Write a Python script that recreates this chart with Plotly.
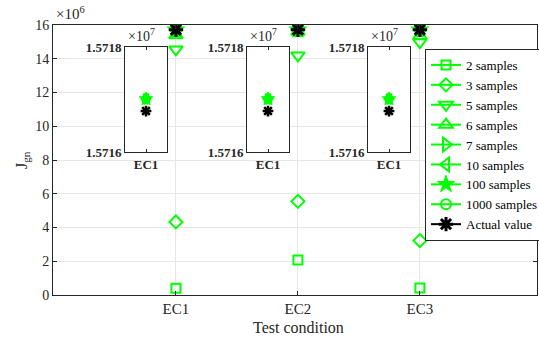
import plotly.graph_objects as go

# ---- data -------------------------------------------------------------
conditions = ["EC1", "EC2", "EC3"]
cond_pos = [1, 2, 3]

j_2 = [0.40e6, 2.07e6, 0.42e6]
j_3 = [4.33e6, 5.55e6, 3.22e6]
j_5 = [14.55e6, 14.20e6, 14.98e6]
j_6 = [15.40e6, 15.60e6, 15.35e6]
j_7 = [15717010, 15717010, 15717010]
j_10 = [15717010, 15717010, 15717010]
j_100 = [15717010, 15717010, 15717010]
j_1000 = [15717010, 15717010, 15717010]
j_actual = [15716780, 15716780, 15716780]

series_names = ["2 samples", "3 samples", "5 samples", "6 samples", "7 samples",
                "10 samples", "100 samples", "1000 samples", "Actual value"]
series_values = [j_2, j_3, j_5, j_6, j_7, j_10, j_100, j_1000, j_actual]

main_ticks = [0, 2e6, 4e6, 6e6, 8e6, 10e6, 12e6, 14e6, 16e6]
main_ticktext = ["0", "2", "4", "6", "8", "10", "12", "14", "16"]
inset_ticks = [1.5716e7, 1.5718e7]
inset_ticktext = ["1.5716", "1.5718"]
inset_label = "EC1"

# ---- styling ----------------------------------------------------------
GREEN = "#00ff00"
AX = "#262626"
GRID = "#e6e6e6"
FONT = "Times New Roman, Liberation Serif, Tinos, serif"
W, H = 539, 342

styles = [
    dict(symbol="square-open", size=9, color=GREEN, lw=2),
    dict(symbol="diamond-open", size=10, color=GREEN, lw=2),
    dict(symbol="triangle-down-open", size=12, color=GREEN, lw=2),
    dict(symbol="triangle-up-open", size=12, color=GREEN, lw=2),
    dict(symbol="triangle-right-open", size=12, color=GREEN, lw=2),
    dict(symbol="triangle-left-open", size=12, color=GREEN, lw=2),
    dict(symbol="star", size=13, color=GREEN, lw=1),
    dict(symbol="circle-open", size=10, color=GREEN, lw=2),
    dict(symbol="asterisk-open", size=12, color="black", lw=3),
]


def px_x(p):
    return p / W


def px_y(p):
    return 1 - p / H


fig = go.Figure()

# main axes: markers only, gaps keep the legend line without joining points
for name, vals, st in zip(series_names, series_values, styles):
    xs, ys = [], []
    for i, (xp, v) in enumerate(zip(cond_pos, vals)):
        if i:
            xs.append(None)
            ys.append(None)
        xs.append(xp)
        ys.append(v)
    fig.add_trace(go.Scatter(
        x=xs, y=ys, name=name, mode="lines+markers", connectgaps=False,
        line=dict(color=st["color"], width=2),
        marker=dict(symbol=st["symbol"], size=st["size"], color=st["color"],
                    line=dict(color=st["color"], width=st["lw"])),
        xaxis="x", yaxis="y",
    ))

# magnified insets around the converged values
inset_left_px = [125, 247, 368]
inset_w_px = 42
inset_top_px, inset_bot_px = 47, 152

layout_axes = {}
for k, (xp, left) in enumerate(zip(cond_pos, inset_left_px)):
    n = k + 2
    xa, ya = f"x{n}", f"y{n}"
    for name, vals, st in zip(series_names, series_values, styles):
        fig.add_trace(go.Scatter(
            x=[xp], y=[vals[k]], mode="markers", showlegend=False,
            marker=dict(symbol=st["symbol"], size=max(st["size"] - 3, 7),
                        color=st["color"],
                        line=dict(color=st["color"], width=min(st["lw"], 2.5))),
            xaxis=xa, yaxis=ya, cliponaxis=True,
        ))
    layout_axes[f"xaxis{n}"] = dict(
        domain=[px_x(left), px_x(left + inset_w_px)], anchor=ya,
        range=[xp - 0.5, xp + 0.5], tickvals=[xp], ticktext=[inset_label],
        ticks="inside", ticklen=3, tickcolor=AX, showgrid=False, zeroline=False,
        showline=True, linecolor=AX, linewidth=1, mirror="ticks",
        tickfont=dict(family=FONT, size=13, color=AX, weight="bold"),
    )
    layout_axes[f"yaxis{n}"] = dict(
        domain=[px_y(inset_bot_px), px_y(inset_top_px)], anchor=xa,
        range=[inset_ticks[0], inset_ticks[-1]], tickvals=inset_ticks,
        ticktext=inset_ticktext, ticks="inside", ticklen=3, tickcolor=AX,
        showgrid=False, zeroline=False, showline=True, linecolor=AX,
        linewidth=1, mirror="ticks",
        tickfont=dict(family=FONT, size=13, color=AX, weight="bold"),
    )
    fig.add_shape(type="rect", xref=f"{xa} domain", yref=f"{ya} domain",
                  x0=0, x1=1, y0=0, y1=1, fillcolor="white",
                  line=dict(width=0), layer="below")
    fig.add_annotation(text="×10<sup>7</sup>", xref="paper", yref="paper",
                       x=px_x(left + 1), y=px_y(inset_top_px - 1),
                       xanchor="left", yanchor="bottom", showarrow=False,
                       font=dict(family=FONT, size=14, color=AX))

fig.update_layout(
    width=W, height=H, autosize=False,
    margin=dict(l=0, r=0, t=0, b=0, autoexpand=False),
    paper_bgcolor="white", plot_bgcolor="white",
    font=dict(family=FONT, size=14, color=AX),
    xaxis=dict(
        domain=[px_x(53), px_x(537)], anchor="y",
        range=[-0.008, 3.96], tickvals=cond_pos, ticktext=conditions,
        ticks="inside", ticklen=4, tickcolor=AX, showgrid=True,
        gridcolor=GRID, gridwidth=1, zeroline=False, showline=True,
        linecolor=AX, linewidth=1, mirror="ticks",
        tickfont=dict(family=FONT, size=15, color=AX),
    ),
    yaxis=dict(
        domain=[px_y(295), px_y(25)], anchor="x",
        range=[0, 16e6], tickvals=main_ticks, ticktext=main_ticktext,
        ticks="inside", ticklen=4, tickcolor=AX, showgrid=True,
        gridcolor=GRID, gridwidth=1, zeroline=False, showline=True,
        linecolor=AX, linewidth=1, mirror="ticks",
        tickfont=dict(family=FONT, size=14, color=AX),
    ),
    legend=dict(
        x=px_x(425), y=px_y(49), xanchor="left", yanchor="top",
        bgcolor="white", bordercolor=AX, borderwidth=1,
        font=dict(family=FONT, size=13, color="black"),
    ),
    **layout_axes,
)

fig.add_annotation(text="Test condition", xref="paper", yref="paper",
                   x=px_x(298), y=px_y(327), xanchor="center",
                   yanchor="middle", showarrow=False,
                   font=dict(family=FONT, size=16, color=AX))
fig.add_annotation(text="J<sub>gn</sub>", xref="paper", yref="paper",
                   x=px_x(22), y=px_y(160), xanchor="center",
                   yanchor="middle", showarrow=False, textangle=-90,
                   font=dict(family=FONT, size=16, color=AX))
fig.add_annotation(text="×10<sup>6</sup>", xref="paper", yref="paper",
                   x=px_x(54), y=px_y(24), xanchor="left", yanchor="bottom",
                   showarrow=False, font=dict(family=FONT, size=15, color=AX))

fig.write_html("out.html")
